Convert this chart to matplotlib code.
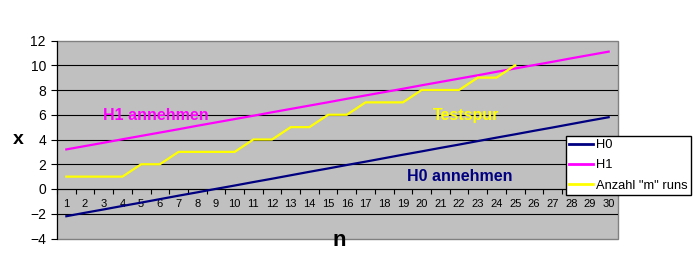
import matplotlib.pyplot as plt
from matplotlib.ticker import MultipleLocator

n = list(range(1, 31))
h0 = [-2.20, -1.92, -1.65, -1.37, -1.10, -0.82, -0.54, -0.27, 0.01, 0.28,
      0.56, 0.83, 1.11, 1.39, 1.66, 1.94, 2.21, 2.49, 2.77, 3.04,
      3.32, 3.59, 3.87, 4.15, 4.42, 4.70, 4.97, 5.25, 5.53, 5.80]
h1 = [3.20, 3.47, 3.74, 4.02, 4.29, 4.56, 4.83, 5.11, 5.38, 5.65,
      5.92, 6.20, 6.47, 6.74, 7.01, 7.29, 7.56, 7.83, 8.10, 8.38,
      8.65, 8.92, 9.19, 9.47, 9.74, 10.01, 10.28, 10.56, 10.83, 11.10]
runs_n = list(range(1, 26))
runs = [1, 1, 1, 1, 2, 2, 3, 3, 3, 3, 4, 4, 5, 5, 6, 6, 7, 7, 7, 8, 8, 8, 9, 9, 10]

plt.rcParams['font.family'] = ['Liberation Sans', 'DejaVu Sans']

fig = plt.figure(figsize=(6.96, 2.56), dpi=100)
ax = fig.add_axes([57 / 696, 1 - 238.5 / 256, 561 / 696, 198 / 256])
ax.set_facecolor('#C0C0C0')
ax.patch.set_edgecolor('#808080')
ax.patch.set_linewidth(1.0)

# gitterlinien (oben/unten ist der graue rahmen)
for yv in range(-2, 11, 2):
    ax.axhline(yv, color='black', lw=0.8, zorder=1)

ax.plot(n, h0, c='#000080', lw=1.6, label='H0', zorder=3)
ax.plot(n, h1, c='#FF00FF', lw=1.6, label='H1', zorder=3)
ax.plot(runs_n, runs, c='#FFFF00', lw=1.6, label='Anzahl "m" runs', zorder=3)

ax.set_xlim(0.5, 30.5)
ax.set_ylim(-4, 12)

ax.spines['top'].set_visible(False)
ax.spines['right'].set_visible(False)
ax.spines['left'].set_color('black')
ax.spines['bottom'].set_position(('data', 0))
ax.spines['bottom'].set_color('black')

ax.yaxis.set_major_locator(MultipleLocator(2))
ax.tick_params(axis='y', direction='out', length=4, width=0.8, pad=4, labelsize=10)
ax.set_xticks(n)
ax.set_xticks([i + 0.5 for i in range(0, 31)], minor=True)
ax.tick_params(axis='x', which='major', length=0, pad=7.5, labelsize=8)
ax.tick_params(axis='x', which='minor', direction='out', length=3.5, width=0.8)

ax.text(5.8, 5.9, 'H1 annehmen', color='#FF00FF', fontsize=11.5, fontweight='bold',
        ha='center', va='center', zorder=4)
ax.text(20.6, 5.9, 'Testspur', color='#FFFF00', fontsize=11.5, fontweight='bold',
        ha='left', va='center', zorder=4)
ax.text(19.2, 1.0, 'H0 annehmen', color='#000080', fontsize=11.5, fontweight='bold',
        ha='left', va='center', zorder=4)

fig.text(18 / 696, 1 - 139 / 256, 'x', fontsize=14, fontweight='bold', ha='center', va='center')
fig.text(339 / 696, 1 - 241 / 256, 'n', fontsize=16, fontweight='bold', ha='center', va='center')

leg = ax.legend(loc='upper left', bbox_to_anchor=(565.5 / 696, 1 - 135.5 / 256),
                bbox_transform=fig.transFigure, fontsize=9.3, frameon=True, fancybox=False,
                borderaxespad=0, borderpad=0.3, handlelength=1.85, handletextpad=0.2,
                labelspacing=0.62)
leg.get_frame().set_edgecolor('black')
leg.get_frame().set_linewidth(1.0)
leg.get_frame().set_facecolor('white')
leg.get_frame().set_alpha(1)
for line in leg.get_lines():
    line.set_linewidth(2)

fig.savefig('out.png', dpi=100)
